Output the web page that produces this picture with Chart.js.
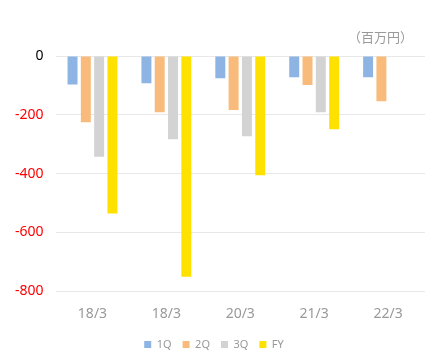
<!DOCTYPE html>
<html><head><meta charset="utf-8">
<script src="https://cdn.jsdelivr.net/npm/chart.js@4"></script>
<style>html,body{margin:0;padding:0;background:#fff}#wrap{width:436px;height:360px}</style>
</head><body><div id="wrap"><canvas id="c"></canvas></div>
<script>
const categories = ["18/3", "18/3", "20/3", "21/3", "22/3"];
const q1 = [-97, -93, -76, -72, -72];
const q2 = [-225, -191, -184, -99, -154];
const q3 = [-343, -283, -273, -191, null];
const fy = [-536, -751, -406, -249, null];
const seriesNames = ["1Q", "2Q", "3Q", "FY"];
const yTicks = [0, -200, -400, -600, -800];
const unitLabel = "（百万円）";
const colors = ["#8EB4E3", "#F8BB7B", "#D3D3D3", "#FFE100"];
const font = "'Noto Sans', 'Noto Sans CJK JP', sans-serif";
const vals = [q1, q2, q3, fy];
const unitPlugin = {
  id: 'unit',
  afterDraw(chart) {
    const { ctx, chartArea } = chart;
    ctx.save();
    ctx.font = "13px 'Noto Sans CJK JP', sans-serif";
    ctx.fillStyle = '#999';
    ctx.textAlign = 'right';
    ctx.textBaseline = 'middle';
    ctx.fillText(unitLabel, chartArea.right - 12, chartArea.top - 19);
    ctx.restore();
  }
};
new Chart(document.getElementById('c'), {
  type: 'bar',
  data: {
    labels: categories,
    datasets: seriesNames.map((n, i) => ({
      label: n, data: vals[i], backgroundColor: colors[i],
      categoryPercentage: 0.72, barPercentage: 0.75
    }))
  },
  options: {
    responsive: true, maintainAspectRatio: false, animation: false,
    layout: { padding: { left: 3, right: 11, top: 56, bottom: 0 } },
    plugins: {
      legend: { position: 'bottom', labels: { boxWidth: 7, boxHeight: 7, color: '#999',
        font: { family: font, size: 11 }, padding: 11 } },
      tooltip: { enabled: false }
    },
    scales: {
      x: { grid: { display: false }, border: { display: false },
        ticks: { color: '#999', font: { family: font, size: 14 }, padding: 6 } },
      y: { min: -800, max: 0, afterBuildTicks: ax => { ax.ticks = yTicks.map(v => ({ value: v })); },
        grid: { color: '#e8e8e8', drawTicks: false }, border: { display: false },
        ticks: { color: c => c.tick.value === 0 ? '#000' : '#ff0000',
          font: { family: font, size: 14 }, padding: 12 } }
    }
  },
  plugins: [unitPlugin]
});
</script></body></html>
